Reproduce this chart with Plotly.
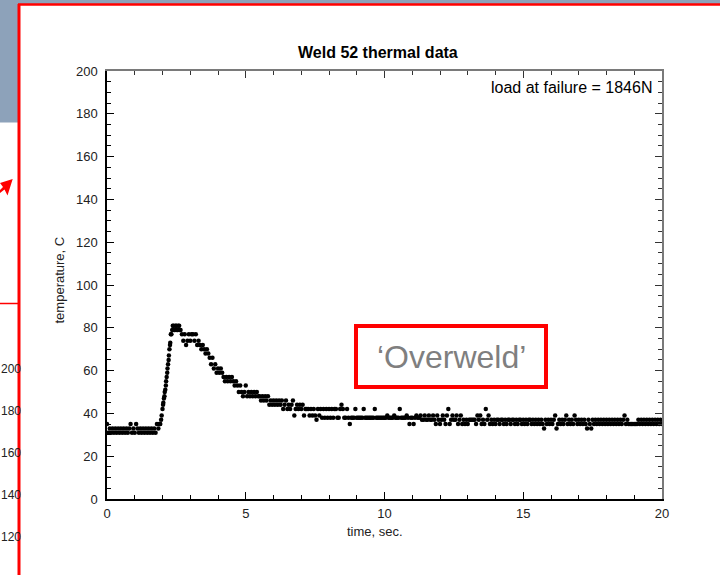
import plotly.graph_objects as go

# ---------------- data ----------------
sample_step_s = 0.05  # main samples every 0.05 s from 0 to 20 s

temp_c_0to5 = [
    35, 31, 33, 31, 33, 31, 33, 31, 33, 31, 33, 31, 33, 31, 33, 31, 33, 35, 31, 33,
    31, 35, 33, 31, 33, 31, 33, 31, 33, 31, 33, 31, 33, 31, 33, 31, 35, 33, 35, 37,
    42, 47, 51, 57, 63, 70, 77, 79, 81, 79, 81, 79, 81, 79, 77, 74, 77, 72, 74, 77,
    74, 77, 77, 74, 77, 72, 74, 72, 70, 72, 70, 68, 70, 68, 66, 63, 66, 61, 63, 59,
    61, 59, 61, 59, 57, 55, 57, 55, 57, 55, 57, 55, 53, 55, 53, 50, 53, 50, 48, 50,
]
temp_c_5to10 = [
    53, 48, 50, 48, 50, 48, 50, 48, 50, 48, 48, 46, 48, 46, 48, 46, 48, 44, 46, 44,
    46, 44, 46, 44, 46, 44, 46, 42, 44, 46, 42, 44, 42, 44, 46, 39, 42, 44, 42, 44,
    42, 44, 39, 42, 42, 42, 39, 42, 39, 42, 39, 37, 42, 39, 42, 38, 42, 38, 42, 38,
    42, 38, 42, 38, 42, 42, 38, 38, 42, 44, 42, 38, 38, 42, 38, 35, 38, 38, 38, 42,
    38, 38, 38, 38, 38, 42, 38, 38, 38, 38, 38, 38, 38, 42, 38, 38, 38, 38, 38, 38,
]
temp_c_10to15 = [
    38, 38, 39, 38, 38, 38, 38, 39, 38, 38, 38, 42, 38, 38, 38, 38, 39, 38, 35, 38,
    38, 35, 38, 39, 38, 38, 39, 37, 37, 39, 37, 37, 39, 37, 37, 39, 37, 35, 39, 37,
    35, 37, 39, 37, 35, 39, 42, 35, 37, 39, 37, 37, 39, 35, 37, 39, 35, 37, 35, 37,
    35, 37, 37, 37, 37, 37, 35, 39, 37, 39, 35, 37, 35, 42, 37, 39, 35, 37, 35, 37,
    35, 37, 37, 35, 37, 37, 35, 37, 35, 37, 37, 35, 37, 37, 35, 37, 35, 37, 37, 35,
]
temp_c_15to20 = [
    37, 35, 37, 35, 37, 37, 35, 37, 35, 37, 35, 37, 35, 37, 35, 33, 37, 35, 37, 35,
    37, 35, 37, 39, 33, 35, 37, 35, 37, 35, 37, 39, 35, 37, 35, 37, 35, 39, 37, 35,
    37, 35, 37, 35, 37, 35, 33, 37, 35, 33, 37, 35, 37, 35, 37, 35, 37, 35, 37, 35,
    37, 35, 37, 35, 37, 35, 37, 35, 37, 35, 37, 35, 37, 39, 35, 37, 35, 35, 35, 35,
    35, 35, 35, 37, 35, 37, 35, 37, 35, 37, 35, 37, 35, 37, 35, 37, 35, 37, 35, 37,
    35,
]

# additional, denser samples seen during the fast rise / peak
rise_time_s = [1.88, 1.92, 1.97, 2.02, 2.03, 2.07, 2.08, 2.12, 2.13, 2.17, 2.18,
               2.22, 2.23, 2.27, 2.28, 2.32, 2.37, 2.42, 2.47, 2.52, 2.57, 2.62]
rise_temp_c = [35, 35, 39, 44, 45, 48, 50, 53, 55, 59, 61,
               65, 67, 72, 73, 77, 81, 79, 81, 79, 81, 79]

x_ticks = [0, 5, 10, 15, 20]
y_ticks = [0, 20, 40, 60, 80, 100, 120, 140, 160, 180, 200]
side_labels = ["200", "180", "160", "140", "120"]

title_text = "Weld 52 thermal data"
x_title = "time, sec."
y_title = "temperature, C"
note_text = "load at failure = 1846N"
box_text = "\u2018Overweld\u2019"

# ---------------- build series ----------------
main_temp = temp_c_0to5 + temp_c_5to10 + temp_c_10to15 + temp_c_15to20
main_time = [round(i * sample_step_s, 2) for i in range(len(main_temp))]
all_time = main_time + rise_time_s
all_temp = main_temp + rise_temp_c

# ---------------- layout helpers ----------------
W, H = 720, 575
L, R, T, B = 107, 58, 71, 76
PW, PH = W - L - R, H - T - B
FONT = "Arial, Liberation Sans, sans-serif"


def px(x):
    return (x - L) / PW


def py(y):
    return (H - B - y) / PH


fig = go.Figure()
fig.add_trace(go.Scatter(
    x=all_time, y=all_temp, mode="markers",
    marker=dict(color="black", size=4.5, line=dict(width=0)),
    showlegend=False, hoverinfo="skip",
))
# empty trace on the mirrored (top/right) axes
fig.add_trace(go.Scatter(x=[], y=[], xaxis="x2", yaxis="y2", showlegend=False))

axis_common = dict(
    ticks="inside", ticklen=7, tickwidth=1, showgrid=False, zeroline=False,
    showline=True, fixedrange=True,
)

fig.update_layout(
    width=W, height=H,
    margin=dict(l=L, r=R, t=T, b=B, pad=0),
    paper_bgcolor="white", plot_bgcolor="white",
    font=dict(family=FONT, size=13, color="#222222"),
    xaxis=dict(range=[0, 20], tickvals=x_ticks, tickcolor="black",
               linecolor="black", linewidth=1.5,
               tickfont=dict(size=13, color="#222222"), ticklabelstandoff=2,
               minor=dict(dtick=1, ticks="inside", ticklen=4, tickcolor="black", showgrid=False),
               **axis_common),
    yaxis=dict(range=[0, 200], tickvals=y_ticks, tickcolor="black",
               linecolor="black", linewidth=1.5,
               tickfont=dict(size=13, color="#222222"), ticklabelstandoff=5,
               minor=dict(dtick=5, ticks="inside", ticklen=4, tickcolor="black", showgrid=False),
               **axis_common),
    xaxis2=dict(range=[0, 20], overlaying="x", side="top", tickvals=x_ticks,
                showticklabels=False, tickcolor="#333333", linecolor="#7a7a7a", linewidth=2,
                minor=dict(dtick=1, ticks="inside", ticklen=4, tickcolor="#333333", showgrid=False),
                **axis_common),
    yaxis2=dict(range=[0, 200], overlaying="y", side="right", tickvals=y_ticks,
                showticklabels=False, tickcolor="#333333", linecolor="#7a7a7a", linewidth=2,
                minor=dict(dtick=5, ticks="inside", ticklen=4, tickcolor="#333333", showgrid=False),
                **axis_common),
)

shapes = [
    # slide background pieces
    dict(type="rect", xref="paper", yref="paper", x0=px(0), x1=px(W), y0=py(0), y1=py(4),
         fillcolor="#8DA2BA", line=dict(width=0), layer="below"),
    dict(type="rect", xref="paper", yref="paper", x0=px(0), x1=px(18), y0=py(0), y1=py(122.5),
         fillcolor="#8DA2BA", line=dict(width=0), layer="below"),
    # red frame
    dict(type="line", xref="paper", yref="paper", x0=px(18), x1=px(W), y0=py(4.6), y1=py(4.6),
         line=dict(color="#FF0000", width=2.5)),
    dict(type="line", xref="paper", yref="paper", x0=px(19), x1=px(19), y0=py(4), y1=py(H),
         line=dict(color="#FF0000", width=3)),
    dict(type="line", xref="paper", yref="paper", x0=px(0), x1=px(18), y0=py(303.5), y1=py(303.5),
         line=dict(color="#FF0000", width=1.5)),
    # red arrow head
    dict(type="path", xref="paper", yref="paper",
         path=f"M {px(12.7)},{py(179)} L {px(0)},{py(183)} L {px(3)},{py(187)} "
              f"L {px(0)},{py(190)} L {px(0)},{py(193)} L {px(4.5)},{py(189.5)} "
              f"L {px(7.5)},{py(195.5)} Z",
         fillcolor="#FF0000", line=dict(width=0)),
    # 'Overweld' box
    dict(type="rect", xref="paper", yref="paper", x0=px(356), x1=px(546), y0=py(387), y1=py(326),
         line=dict(color="#FF0000", width=4), fillcolor="white", layer="above"),
]
fig.update_layout(shapes=shapes)

annotations = [
    dict(text=f"<b>{title_text}</b>", x=px(377.5), y=py(52), xref="paper", yref="paper",
         showarrow=False, xanchor="center", yanchor="middle",
         font=dict(family=FONT, size=16, color="black")),
    dict(text=note_text, x=px(653.5), y=py(87.5), xref="paper", yref="paper",
         showarrow=False, xanchor="right", yanchor="middle",
         font=dict(family=FONT, size=16, color="black")),
    dict(text=x_title, x=px(374.5), y=py(531), xref="paper", yref="paper",
         showarrow=False, xanchor="center", yanchor="middle",
         font=dict(family=FONT, size=13, color="#222222")),
    dict(text=y_title, x=px(59), y=py(280.5), xref="paper", yref="paper", textangle=-90,
         showarrow=False, xanchor="center", yanchor="middle",
         font=dict(family=FONT, size=13, color="#222222")),
    dict(text=box_text, x=px(451), y=py(357), xref="paper", yref="paper",
         showarrow=False, xanchor="center", yanchor="middle",
         font=dict(family=FONT, size=32, color="#7F7F7F")),
]
for lbl, ypix in zip(side_labels, [369, 411, 453, 495, 537]):
    annotations.append(dict(text=lbl, x=px(0), y=py(ypix), xref="paper", yref="paper",
                            showarrow=False, xanchor="left", yanchor="middle", borderpad=0,
                            font=dict(family=FONT, size=12, color="#222222")))
fig.update_layout(annotations=annotations)

fig.write_html("out.html")
